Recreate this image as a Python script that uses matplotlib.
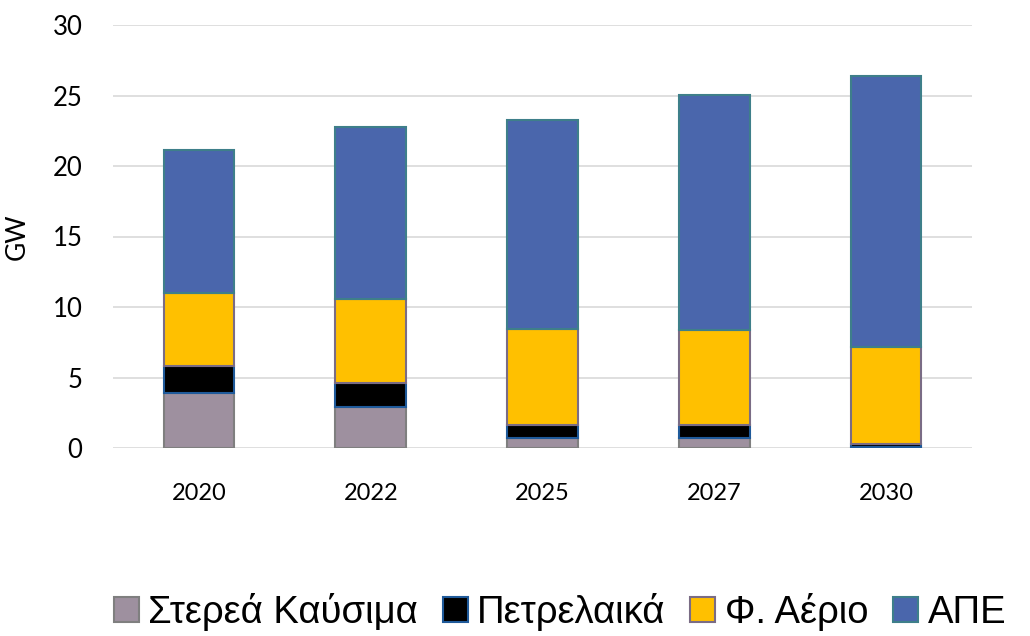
import matplotlib
matplotlib.use("Agg")
import matplotlib.pyplot as plt
import numpy as np

years = ["2020", "2022", "2025", "2027", "2030"]
series_names = ["Στερεά Καύσιμα", "Πετρελαικά", "Φ. Αέριο", "ΑΠΕ"]
solid = [3.9, 2.9, 0.7, 0.7, 0.05]
oil = [1.9, 1.7, 0.9, 0.9, 0.2]
gas = [5.2, 6.0, 6.85, 6.8, 6.9]
res = [10.1, 12.2, 14.8, 16.6, 19.2]
yticks = [0, 5, 10, 15, 20, 25, 30]

fills = ["#9E909F", "#000000", "#FFC000", "#4A66AC"]
edges = ["#7F7F7F", "#1F5A9A", "#7A6C85", "#3E7F8A"]

fig = plt.figure(figsize=(10.3, 6.36), dpi=100)
ax = fig.add_axes([113/1030, 1-448/636, (972-113)/1030, (448-25)/636])

x = np.arange(len(years))
bottom = np.zeros(len(years))
handles = []
for vals, fc, ec, nm in zip([solid, oil, gas, res], fills, edges, series_names):
    b = ax.bar(x, vals, bottom=bottom, width=0.41, color=fc, edgecolor=ec,
               linewidth=1.5, label=nm, zorder=3)
    handles.append(b)
    bottom += np.array(vals)

ax.set_ylim(0, 30)
ax.set_xlim(-0.5, len(years) - 0.5)
ax.set_yticks(yticks)
ax.set_yticklabels([str(t) for t in yticks], fontsize=18.5, family="Lato")
ax.set_xticks(x)
ax.set_xticklabels(years, fontsize=17, family="Lato")
ax.tick_params(axis="both", length=0)
ax.tick_params(axis="x", pad=25)
ax.tick_params(axis="y", pad=22)
ax.grid(axis="y", color="#D9D9D9", linewidth=1.2, zorder=0)
for s in ax.spines.values():
    s.set_visible(False)
ax.set_ylabel("GW", fontsize=19, family="Lato")
ax.yaxis.set_label_coords(-(113-30)/859, 0.5)

leg = fig.legend(handles=handles, labels=series_names, loc="center",
                 bbox_to_anchor=(560/1030, 1-612/636), ncol=4, frameon=False,
                 prop={"family": "Liberation Sans", "size": 27.5},
                 handlelength=0.65, handleheight=0.65, handletextpad=0.25,
                 columnspacing=0.65, borderpad=0)

fig.savefig("out.png", dpi=100)
